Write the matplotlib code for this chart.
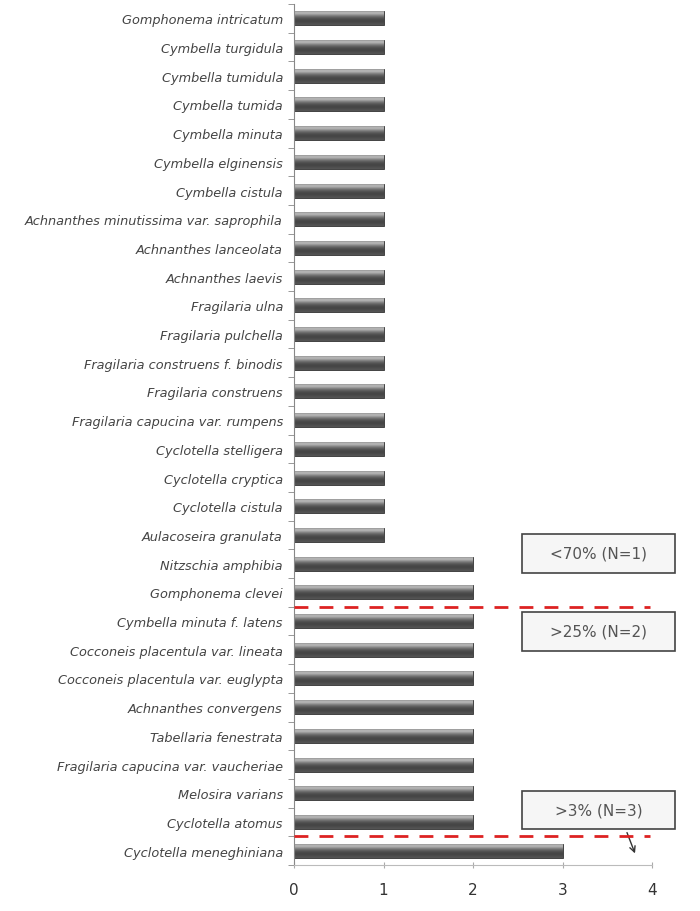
import matplotlib.pyplot as plt
import numpy as np
from matplotlib.patches import Rectangle

species = ['Gomphonema intricatum', 'Cymbella turgidula', 'Cymbella tumidula', 'Cymbella tumida',
           'Cymbella minuta', 'Cymbella elginensis', 'Cymbella cistula',
           'Achnanthes minutissima var. saprophila', 'Achnanthes lanceolata', 'Achnanthes laevis',
           'Fragilaria ulna', 'Fragilaria pulchella', 'Fragilaria construens f. binodis',
           'Fragilaria construens', 'Fragilaria capucina var. rumpens', 'Cyclotella stelligera',
           'Cyclotella cryptica', 'Cyclotella cistula', 'Aulacoseira granulata',
           'Nitzschia amphibia', 'Gomphonema clevei', 'Cymbella minuta f. latens',
           'Cocconeis placentula var. lineata', 'Cocconeis placentula var. euglypta',
           'Achnanthes convergens', 'Tabellaria fenestrata', 'Fragilaria capucina var. vaucheriae',
           'Melosira varians', 'Cyclotella atomus', 'Cyclotella meneghiniana']
counts = [1] * 19 + [2] * 10 + [3]
x_ticks = [0, 1, 2, 3, 4]
group_labels = ['<70% (N=1)', '>25% (N=2)', '>3% (N=3)']
split_after = [20.5, 28.5]

W, H = 700, 912
fig = plt.figure(figsize=(7, 9.12), dpi=100)
ax = fig.add_axes([294 / W, 1 - 866 / H, (652 - 294) / W, (866 - 5) / H])

y = np.arange(len(species))
bars = ax.barh(y, counts, height=0.49, color='#555555', edgecolor='#333333', linewidth=0.6)

# cylinder-like grey gradient on each bar
grad = np.array([0.55, 0.78, 0.58, 0.42, 0.32, 0.27, 0.28, 0.33]).reshape(-1, 1)
for b in bars:
    x0, y0 = b.get_x(), b.get_y()
    w, h = b.get_width(), b.get_height()
    im = ax.imshow(grad, cmap='gray', vmin=0, vmax=1, aspect='auto',
                   extent=(x0, x0 + w, y0 + h, y0), interpolation='bicubic', zorder=2)
    im.set_clip_path(b)

ax.set_xlim(0, 4)
ax.set_ylim(len(species) - 0.5, -0.5)
ax.set_xticks(x_ticks)
ax.set_yticks(y)
ax.set_yticklabels(species, fontstyle='italic', fontsize=9.3, color='#444444')
ax.set_yticks(np.arange(len(species) + 1) - 0.5, minor=True)
ax.tick_params(axis='y', which='major', length=0, pad=8)
ax.tick_params(axis='y', which='minor', length=4, color='#888888')
ax.tick_params(axis='x', length=4, direction='inout', color='#aaaaaa', labelsize=11,
               labelcolor='#333333', pad=10)
for s in ['top', 'right']:
    ax.spines[s].set_visible(False)
ax.spines['left'].set_color('#888888')
ax.spines['bottom'].set_color('#bbbbbb')

for s in split_after:
    ax.plot([0, 3.98], [s, s], color='#dd2222', linestyle=(0, (5, 4)), linewidth=2, zorder=5)

# label boxes (pixel positions of the original)
boxes = [(522, 535, 675, 574), (522, 613, 675, 652), (522, 792, 675, 830)]
for (l, t, r, bt), lab in zip(boxes, group_labels):
    fig.add_artist(Rectangle((l / W, 1 - bt / H), (r - l) / W, (bt - t) / H,
                             transform=fig.transFigure, facecolor='#f6f6f6',
                             edgecolor='#444444', linewidth=1.2))
    fig.text((l + r) / 2 / W, 1 - (t + bt) / 2 / H, lab, ha='center', va='center',
             fontsize=11, color='#555555')

ax.annotate('', xy=(636 / W, 1 - 857 / H), xytext=(626 / W, 1 - 831 / H),
            xycoords='figure fraction', textcoords='figure fraction',
            arrowprops=dict(arrowstyle='->', color='#333333', lw=1))

fig.savefig('out.png', dpi=100)
